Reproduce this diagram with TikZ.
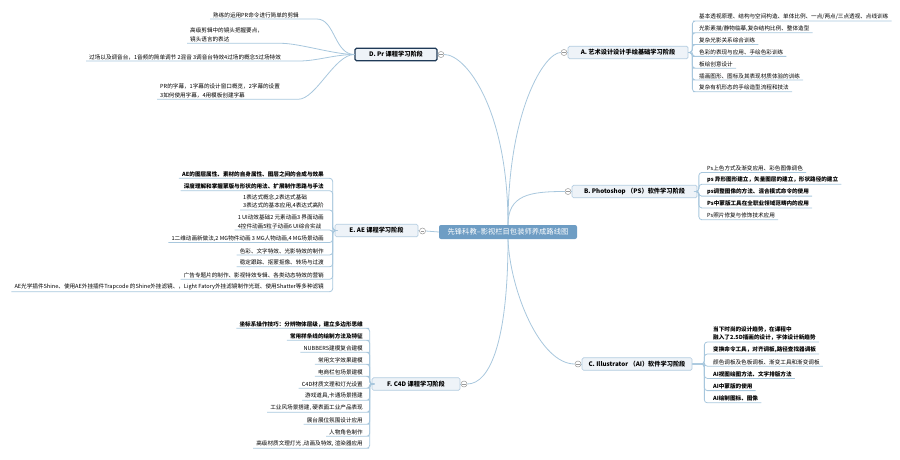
\documentclass[tikz,border=0pt]{standalone}
\usepackage{fontspec}
\setmainfont{Noto Sans CJK SC}
\definecolor{rootblue}{HTML}{6E9DC4}
\definecolor{stagefill}{HTML}{EEF3F8}
\definecolor{stageedge}{HTML}{B3CCE0}
\definecolor{selnavy}{HTML}{1F3A57}
\definecolor{linkblue}{HTML}{A8C7DD}
\definecolor{knobgray}{HTML}{9A9A9A}
\begin{document}
\begin{tikzpicture}[x=1pt, y=-1pt,
    root/.style={rectangle, fill=rootblue, text=white, rounded corners=2pt, minimum width=138pt, minimum height=14pt, inner sep=1pt, font=\fontsize{7.3}{9}\selectfont},
    stage/.style={rectangle, draw=stageedge, fill=stagefill, line width=0.7pt, rounded corners=1.5pt, minimum height=12.5pt, inner sep=1pt, font=\bfseries\fontsize{6.2}{8}\selectfont},
    item/.style={inner xsep=3pt, inner ysep=1.2pt, align=left, font=\fontsize{5.6}{8.5}\selectfont},
    bitem/.style={item, font=\bfseries\fontsize{5.6}{8.5}\selectfont},
    link/.style={draw=linkblue, line width=0.8pt},
    branch/.style={link, rounded corners=3pt},
    knob/.style={circle, draw=knobgray, fill=white, line width=0.5pt, inner sep=0pt, minimum size=6pt,
        path picture={\draw[knobgray, line width=0.5pt] ([xshift=-1.8pt]path picture bounding box.center) -- ([xshift=1.8pt]path picture bounding box.center);}}
]
    \useasboundingbox (0,0) rectangle (900,460);

    \node[root] (root) at (508,232) {先锋科教--影视栏目包装师养成路线图};

    \node[stage, minimum width=82pt, draw=selnavy, line width=1.2pt] (D) at (396,54.5) {D. Pr 课程学习阶段};
    \node[stage, minimum width=120pt] (A) at (628,52.5) {A. 艺术设计设计手绘基础学习阶段};
    \node[stage, minimum width=125pt] (B) at (634.5,191.5) {B. Photoshop （PS）软件学习阶段};
    \node[stage, minimum width=83pt] (E) at (376.5,230.5) {E. AE 课程学习阶段};
    \node[stage, minimum width=88pt] (F) at (416,384) {F. C4D 课程学习阶段};
    \node[stage, minimum width=110pt] (C) at (637,364) {C. Illustrator （AI）软件学习阶段};

    \node[knob] (Dk) at (441,54.5) {};
    \node[knob] (Ak) at (564,52.5) {};
    \node[knob] (Bk) at (568,191.5) {};
    \node[knob] (Ek) at (422.5,231) {};
    \node[knob] (Fk) at (464,384) {};
    \node[knob] (Ck) at (578,364) {};

    % D. Pr
    \node[item, anchor=south west] (d1) at (210,19) {熟练的运用PR命令进行简单的剪辑};
    \node[item, anchor=south west] (d2) at (187,43.3) {高级剪辑中的镜头把握要点，\\镜头语言的表达};
    \node[item, anchor=south west] (d3) at (86,61) {过场以及调音台，1音频的简单调节 2混音 3调音台特效4过场的概念5过场特效};
    \node[item, anchor=south west] (d4) at (157,99.3) {PR的字幕，1字幕的设计窗口概览，2字幕的设置\\3如何使用字幕，4用模板创建字幕};

    % A
    \node[item, anchor=south west] (a1) at (696,21) {基本透视原理、结构与空间构造、单体比例、一点/两点/三点透视、点线训练};
    \node[item, anchor=south west] (a2) at (696,32.8) {光影素描/静物临摹,复杂结构比例、整体造型};
    \node[item, anchor=south west] (a3) at (696,44.6) {复杂光影关系综合训练};
    \node[item, anchor=south west] (a4) at (696,56.4) {色彩的表现与应用、手绘色彩训练};
    \node[item, anchor=south west] (a5) at (696,68.2) {板绘创意设计};
    \node[item, anchor=south west] (a6) at (696,80) {插画图形、图标及其表现材质体验的训练};
    \node[item, anchor=south west] (a7) at (696,91.8) {复杂有机形态的手绘造型流程和技法};

    % B
    \node[item, anchor=south west] (b1) at (704,172.5) {Ps上色方式及渐变应用、彩色图像调色};
    \node[bitem, anchor=south west] (b2) at (704,184.3) {ps 异形图形建立，矢量图层的建立，形状路径的建立};
    \node[bitem, anchor=south west] (b3) at (704,196.1) {ps调整图像的方法、混合模式命令的使用};
    \node[bitem, anchor=south west] (b4) at (704,207.9) {Ps中蒙版工具在全职业领域范畴内的应用};
    \node[item, anchor=south west] (b5) at (704,219.7) {Ps照片修复与修饰技术应用};

    % C
    \node[bitem, anchor=south west] (c1) at (710,342) {当下时尚的设计趋势，在课程中\\融入了2.5D插画的设计，字体设计新趋势};
    \node[bitem, anchor=south west] (c2) at (710,354) {变换命令工具，对齐调板,路径查找器调板};
    \node[item, anchor=south west] (c3) at (710,366.2) {颜色调板及色板调板、渐变工具和渐变调板};
    \node[bitem, anchor=south west] (c4) at (710,378.4) {AI视图绘图方法、文字排版方法};
    \node[bitem, anchor=south west] (c5) at (710,390.6) {AI中蒙版的使用};
    \node[bitem, anchor=south west] (c6) at (710,402.8) {AI绘制图标、图像};

    % E. AE
    \node[bitem, anchor=south east] (e1) at (327,178.3) {AE的图层属性、素材的自身属性、图层之间的合成与效果};
    \node[bitem, anchor=south east] (e2) at (327,190.7) {深度理解和掌握蒙版与形状的用法、扩展制作思路与手法};
    \node[item, anchor=south east] (e3) at (327,210) {1表达式概念,2表达式基础\\3表达式的基本应用,4表达式高阶};
    \node[item, anchor=south east] (e4) at (327,230) {1 UI动效基础2 元素动画3 界面动画\\4控件动画5粒子动画6 UI综合实战};
    \node[item, anchor=south east] (e5) at (327,242.5) {1二维动画新做法,2 MG物件动画 3 MG人物动画,4 MG场景动画};
    \node[item, anchor=south east] (e6) at (327,255) {色彩、文字特效、光影特效的制作};
    \node[item, anchor=south east] (e7) at (327,266.8) {稳定跟踪、抠蒙抠像、转场与过渡};
    \node[item, anchor=south east] (e8) at (327,279.3) {广告专题片的制作、影视特效专辑、各类动态特效的营销};
    \node[item, anchor=south east] (e9) at (327,291.7) {AE光学插件Shine、使用AE外挂插件Trapcode 的Shine外挂滤镜、，Light Fatory外挂滤镜制作光斑、使用Shatter等多种滤镜};

    % F. C4D
    \node[bitem, anchor=south east] (f1) at (366,328.3) {坐标系操作技巧：分辨物体层级，建立多边形思维};
    \node[bitem, anchor=south east] (f2) at (366,340.3) {常用样条线的绘制方法及特征};
    \node[item, anchor=south east] (f3) at (366,352.3) {NUBBERS建模复合建模};
    \node[item, anchor=south east] (f4) at (366,364.3) {常用文字效果建模};
    \node[item, anchor=south east] (f5) at (366,376.3) {电商栏包场景建模};
    \node[item, anchor=south east] (f6) at (366,388.3) {C4D材质文理和灯光设置};
    \node[item, anchor=south east] (f7) at (366,400.3) {游戏道具,卡通场景搭建};
    \node[item, anchor=south east] (f8) at (366,412.3) {工业风场景搭建, 硬表面工业产品表现};
    \node[item, anchor=south east] (f9) at (366,424.3) {展台展位氛围设计应用};
    \node[item, anchor=south east] (f10) at (366,436.3) {人物角色制作};
    \node[item, anchor=south east] (f11) at (366,448.3) {高级材质文理灯光 ,动画及特效, 渲染器应用};

    % root to stages
    \draw[link] (root.north) .. controls +(0,-115) and +(22,0) .. (Dk.east);
    \draw[link] (root.north) .. controls +(0,-115) and +(-16,0) .. (Ak.west);
    \draw[link] (root.north) .. controls +(0,-30) and +(-35,0) .. (Bk.west);
    \draw[link] (root.west) -- (Ek.east);
    \draw[link] (root.south) .. controls +(0,101) and +(23,0) .. (Fk.east);
    \draw[link] (root.south) .. controls +(2,51) and +(-35,0) .. (Ck.west);
    \draw[link] (Dk.west) -- (D.east);
    \draw[link] (Ak.east) -- (A.west);
    \draw[link] (Bk.east) -- (B.west);
    \draw[link] (Ek.west) -- (E.east);
    \draw[link] (Fk.west) -- (F.east);
    \draw[link] (Ck.east) -- (C.west);

    % stages to items
    \foreach \i in {1,...,4}
        \draw[link] (d\i.south west) -- ([xshift=15pt]d\i.south east) .. controls +(18,0) and +(-20,0) .. (D.west);
    \foreach \i in {1,...,7}
        \draw[branch] (A.east) -- ++(4,0) |- (a\i.south west) -- (a\i.south east);
    \foreach \i in {1,...,5}
        \draw[branch] (B.east) -- ++(1.5,0) |- (b\i.south west) -- (b\i.south east);
    \foreach \i in {1,...,6}
        \draw[branch] (C.east) -- ++(12,0) |- (c\i.south west) -- (c\i.south east);
    \foreach \i in {1,...,9}
        \draw[branch] (E.west) -- ++(-2,0) |- (e\i.south east) -- (e\i.south west);
    \foreach \i in {1,...,11}
        \draw[branch] (F.west) -- ++(-2,0) |- (f\i.south east) -- (f\i.south west);
\end{tikzpicture}
\end{document}
